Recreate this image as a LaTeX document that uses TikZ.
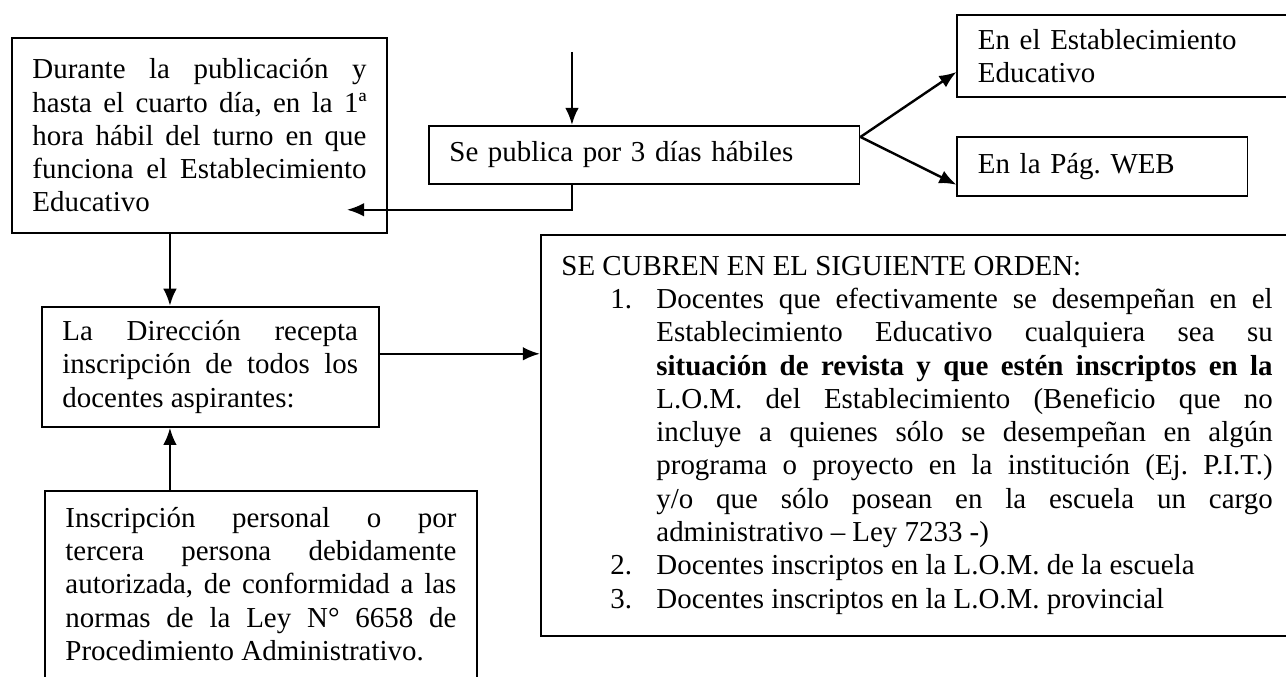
\documentclass[tikz,border=0pt]{standalone}
\usepackage{fontspec}
\setmainfont{Liberation Serif}
\usetikzlibrary{arrows.meta, positioning, calc}

\tolerance=10000
\hyphenpenalty=10000
\frenchspacing

\tikzset{
  caja/.style = {draw, line width=0.75pt, inner xsep=3mm, inner ysep=2mm,
    font=\fontsize{12}{13.8}\selectfont},
  flecha/.style = {line width=1pt}
}

\newcommand{\punto}[2]{\par\noindent\hangindent=13.85mm\hangafter=1%
  \hspace*{7.14mm}\makebox[6.71mm][l]{#1}#2}

\begin{document}
\begin{tikzpicture}[>={Latex[length=2.5mm, width=2mm]}]

\useasboundingbox (0,0) rectangle (187.5mm,-98.7mm);

\node[caja, anchor=north west, text width=48.7mm, align=justify,
  minimum height=28.43mm] (durante) at (1.6mm,-5.39mm)
  {Durante la publicación y\linebreak hasta el cuarto día, en la 1ª\linebreak
   hora hábil del turno en que\linebreak funciona el Establecimiento\linebreak
   Educativo};

\node[caja, text width=56.8mm, align=left, minimum height=8.46mm,
  below right = 12.83mm and 5.83mm of durante.north east] (publica)
  {Se publica por 3 días hábiles};

\node[caja, text width=44.5mm, align=left, minimum height=11.96mm,
  above right = 3.94mm and 14mm of publica.north east] (establ)
  {En el Establecimiento\\Educativo};
\node[caja, text width=36.3mm, align=left, minimum height=8.6mm,
  below right = 5.54mm and 0mm of establ.south west] (web)
  {En la Pág. WEB};

\node[caja, text width=43.1mm, align=justify, minimum height=17.5mm,
  below right = 10.5mm and 4.37mm of durante.south west] (direccion)
  {La Dirección recepta\linebreak inscripción de todos los\linebreak
   docentes aspirantes:};

\node[caja, text width=57mm, align=justify, inner ysep=2.4mm,
  below right = 9.04mm and 0.44mm of direccion.south west] (inscripcion)
  {Inscripción personal o por\linebreak tercera persona debidamente\linebreak
   autorizada, de conformidad a las\linebreak normas de la Ley N° 6658 de\linebreak
   Procedimiento Administrativo.\rule[-6mm]{0pt}{6mm}};

\node[caja, text width=103.7mm, align=justify, minimum height=58.47mm,
  below right = 7.14mm and 16.33mm of publica.south west] (orden)
  {SE CUBREN EN EL SIGUIENTE ORDEN:
   \punto{1.}{Docentes que efectivamente se desempeñan en el\linebreak
     Establecimiento Educativo cualquiera sea su\linebreak
     \textbf{situación de revista y que estén inscriptos en la}\linebreak
     L.O.M. del Establecimiento (Beneficio que no\linebreak
     incluye a quienes sólo se desempeñan en algún\linebreak
     programa o proyecto en la institución (Ej. P.I.T.)\linebreak
     y/o que sólo posean en la escuela un cargo\linebreak
     administrativo – Ley 7233 -)}
   \punto{2.}{Docentes inscriptos en la L.O.M. de la escuela}
   \punto{3.}{Docentes inscriptos en la L.O.M. provincial}};

% flechas
\coordinate (entrada) at ($(publica.north west)+(21mm,10.64mm)$);
\coordinate (fin) at ($(durante.south east)+(-5.98mm,3.5mm)$);
\draw[flecha, ->] (entrada) -- (entrada |- publica.north);
\draw[flecha, ->] (entrada |- publica.south) |- (fin);

\coordinate (abanico) at ($(publica.north east)+(0,-1.75mm)$);
\draw[flecha, ->] (abanico) -- ($(establ.south west)+(0,3.79mm)$);
\draw[flecha, ->] (abanico) -- ($(web.south west)+(0,1.75mm)$);

\coordinate (eje) at ($(direccion.north west)+(18.81mm,0)$);
\draw[flecha, ->] (eje |- durante.south) -- (eje);
\draw[flecha, ->] (eje |- inscripcion.north) -- (eje |- direccion.south);

\coordinate (salida) at ($(direccion.north east)+(0,-7mm)$);
\draw[flecha, ->] (salida) -- (salida -| orden.west);

\end{tikzpicture}
\end{document}
